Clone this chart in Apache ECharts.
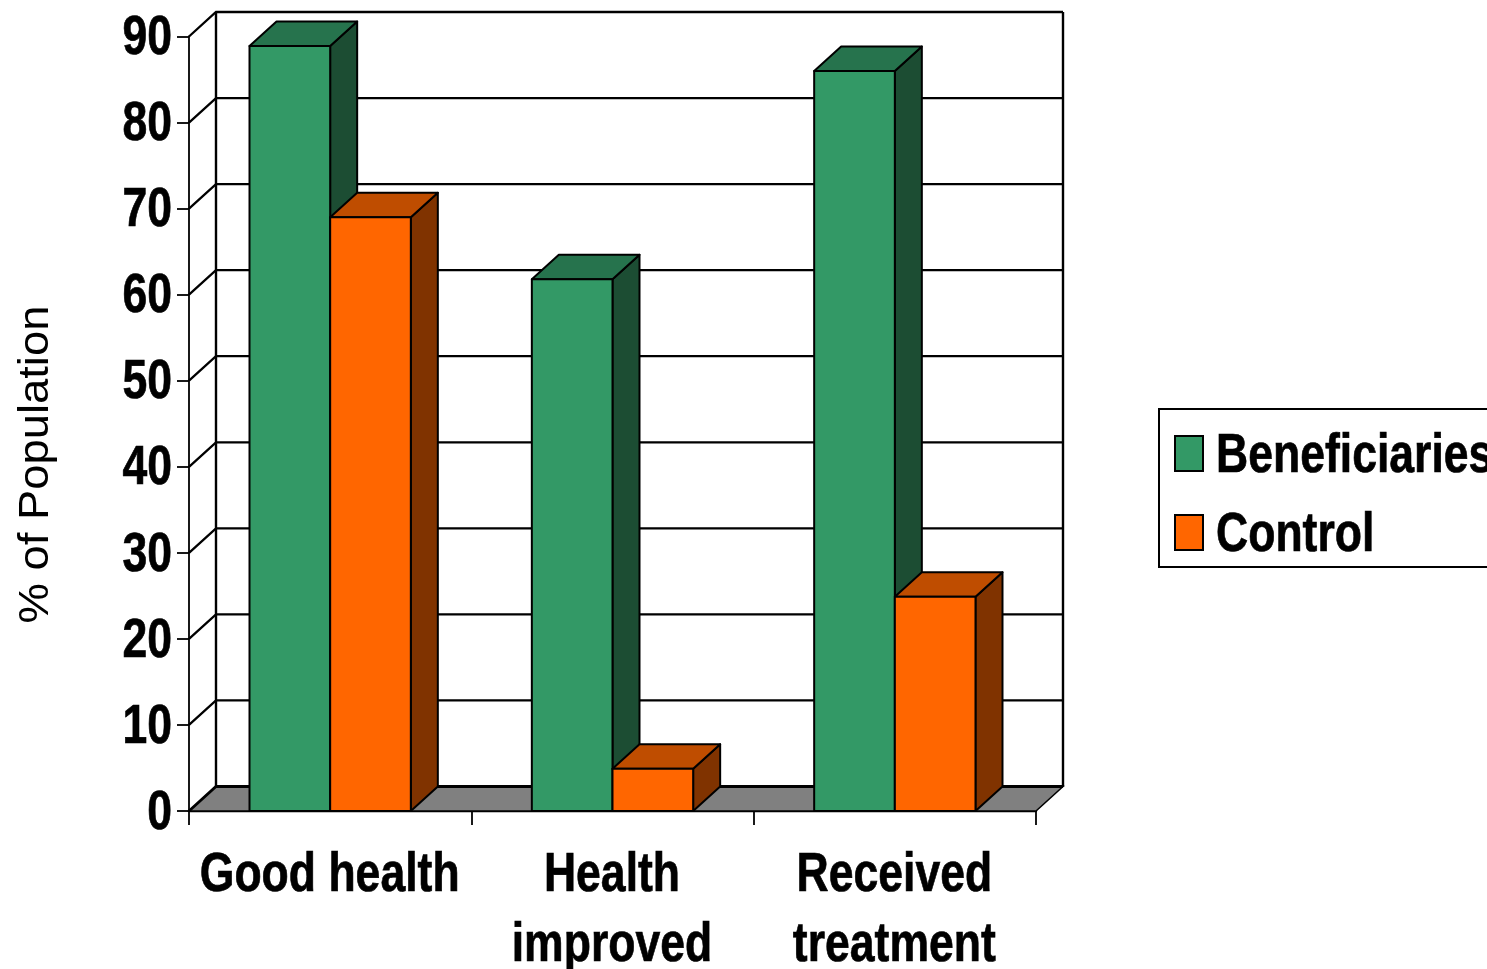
<!DOCTYPE html>
<html>
<head>
<meta charset="utf-8">
<style>html,body{margin:0;padding:0;background:#fff;overflow:hidden}#chart{width:1487px;height:969px}</style>
<script src="https://cdn.jsdelivr.net/npm/echarts@6/dist/echarts.min.js"></script>
</head>
<body>
<div id="chart"></div>
<script>
const categories = ['Good health', 'Health\nimproved', 'Received\ntreatment'];
const beneficiaries = [88.9, 61.8, 86];
const control = [69, 4.9, 24.9];
const yTicks = [0, 10, 20, 30, 40, 50, 60, 70, 80, 90];
const legendNames = ['Beneficiaries', 'Control'];
const axisTitle = '% of Population';

const DEPTH_X = 27, DEPTH_Y = 24.5, BAR_SHARE = 0.2857;
const BOLD_FONT = 'bold 55px "Liberation Sans", sans-serif';
const NARROW = 0.81;
const INK = '#000';
const GLYPH_WEIGHT = { fill: INK, stroke: INK, lineWidth: 0.7 };

// Back wall, gridlines and grey floor of the pseudo-3D box.
function renderWall(params, api) {
  const v = api.value(1);
  const cs = params.coordSys;
  const y = api.coord([0, v])[1];
  const left = cs.x, right = cs.x + cs.width;
  const children = [];
  if (v === 0) {
    const top = api.coord([0, 90])[1];
    children.push({
      type: 'polygon', z2: 0,
      shape: { points: [[left, y], [left + DEPTH_X, y - DEPTH_Y], [right + DEPTH_X, y - DEPTH_Y], [right, y]] },
      style: { fill: '#808080', stroke: INK, lineWidth: 1.5 }
    });
    [left + DEPTH_X, right + DEPTH_X].forEach(function (x) {
      children.push({
        type: 'line', z2: 1,
        shape: { x1: x, y1: y - DEPTH_Y, x2: x, y2: top - DEPTH_Y },
        style: { stroke: INK, lineWidth: 2.4, fill: null }
      });
    });
  }
  children.push({
    type: 'polyline', z2: 1,
    shape: { points: [[left, y], [left + DEPTH_X, y - DEPTH_Y], [right + DEPTH_X, y - DEPTH_Y]] },
    style: { stroke: INK, lineWidth: v === 0 ? 2.8 : 2.3, fill: null }
  });
  // Condensed tick label, placed on the scale position of this tick.
  children.push({
    type: 'text', z2: 5, x: left - 17, y: y + 2.5, scaleX: NARROW,
    style: Object.assign({ text: String(v), font: BOLD_FONT, align: 'right', verticalAlign: 'middle' }, GLYPH_WEIGHT)
  });
  return { type: 'group', children: children };
}

// Condensed category label under each band of the x axis.
function renderCategoryLabel(params, api) {
  const i = api.value(0);
  const p = api.coord([i, 0]);
  return {
    type: 'text', x: p[0] - 0.5, y: p[1] + 29.5, scaleX: NARROW,
    style: Object.assign({ text: categories[i], font: BOLD_FONT, lineHeight: 70, align: 'center', verticalAlign: 'top' }, GLYPH_WEIGHT)
  };
}

// One extruded column: front face, lit top and shaded side.
function barRenderer(slot, topColor, sideColor, frontColor) {
  return function (params, api) {
    const p = api.coord([api.value(0), api.value(1)]);
    const base = api.coord([api.value(0), 0])[1];
    const w = api.size([1, 0])[0] * BAR_SHARE;
    const x0 = p[0] + slot * w, x1 = x0 + w, y = p[1];
    const line = { stroke: INK, lineWidth: 2, lineJoin: 'round' };
    return {
      type: 'group',
      children: [
        { type: 'polygon', shape: { points: [[x1, base], [x1 + DEPTH_X, base - DEPTH_Y], [x1 + DEPTH_X, y - DEPTH_Y], [x1, y]] },
          style: Object.assign({ fill: sideColor }, line) },
        { type: 'polygon', shape: { points: [[x0, y], [x0 + DEPTH_X, y - DEPTH_Y], [x1 + DEPTH_X, y - DEPTH_Y], [x1, y]] },
          style: Object.assign({ fill: topColor }, line) },
        { type: 'polygon', shape: { points: [[x0, y], [x1, y], [x1, base], [x0, base]] },
          style: Object.assign({ fill: frontColor }, line) }
      ]
    };
  };
}

const chart = echarts.init(document.getElementById('chart'), null, { renderer: 'canvas' });
chart.setOption({
  animation: false,
  backgroundColor: '#fff',
  grid: { left: 189, top: 36.5, width: 847, height: 774.5, containLabel: false, outerBoundsMode: 'none' },
  legend: {
    data: legendNames,
    orient: 'vertical',
    left: 1159,
    top: 409,
    padding: [26, 320, 16, 15],
    icon: 'rect',
    itemWidth: 28,
    itemHeight: 35,
    itemGap: 42,
    backgroundColor: '#fff',
    borderColor: INK,
    borderWidth: 2,
    borderRadius: 0,
    formatter: function () { return ' '; },
    textStyle: { fontSize: 20, color: INK }
  },
  graphic: [
    {
      type: 'text', z: 100, x: 1216, y: 456.5, scaleX: NARROW,
      style: Object.assign({ text: legendNames[0], font: BOLD_FONT, align: 'left', verticalAlign: 'middle' }, GLYPH_WEIGHT)
    },
    {
      type: 'text', z: 100, x: 1216, y: 535.5, scaleX: NARROW,
      style: Object.assign({ text: legendNames[1], font: BOLD_FONT, align: 'left', verticalAlign: 'middle' }, GLYPH_WEIGHT)
    },
    {
      type: 'text', z: 100, x: 36, y: 464.5, rotation: Math.PI / 2, scaleX: 1.055,
      style: { text: axisTitle, font: '43px "Liberation Sans", sans-serif', fill: INK, align: 'center', verticalAlign: 'middle' }
    }
  ],
  xAxis: {
    type: 'category',
    data: categories,
    axisLine: { lineStyle: { color: INK, width: 2.4 } },
    axisTick: { show: true, length: 14, lineStyle: { color: INK, width: 1.8 } },
    axisLabel: { show: false },
    splitLine: { show: false }
  },
  yAxis: {
    type: 'value',
    min: 0,
    max: 90,
    interval: 10,
    axisLine: { show: true, lineStyle: { color: INK, width: 1.8 } },
    axisTick: { show: true, length: 12, lineStyle: { color: INK, width: 1.8 } },
    axisLabel: { show: false },
    splitLine: { show: false }
  },
  series: [
    {
      name: 'Walls', type: 'custom', clip: false, silent: true, z: 1,
      data: yTicks.map(function (v) { return [0, v]; }),
      encode: { x: 0, y: 1 },
      renderItem: renderWall
    },
    {
      name: 'Category labels', type: 'custom', clip: false, silent: true, z: 4,
      data: categories.map(function (c, i) { return [i, 0]; }),
      encode: { x: 0, y: 1 },
      renderItem: renderCategoryLabel
    },
    {
      name: legendNames[0], type: 'custom', clip: false, z: 2,
      itemStyle: { color: '#339966', borderColor: INK, borderWidth: 2 },
      data: beneficiaries.map(function (v, i) { return [i, v]; }),
      encode: { x: 0, y: 1 },
      renderItem: barRenderer(-1, '#26734D', '#1C4D33', '#339966')
    },
    {
      name: legendNames[1], type: 'custom', clip: false, z: 3,
      itemStyle: { color: '#FF6600', borderColor: INK, borderWidth: 2 },
      data: control.map(function (v, i) { return [i, v]; }),
      encode: { x: 0, y: 1 },
      renderItem: barRenderer(0, '#BF4D00', '#803300', '#FF6600')
    }
  ]
});
</script>
</body>
</html>
